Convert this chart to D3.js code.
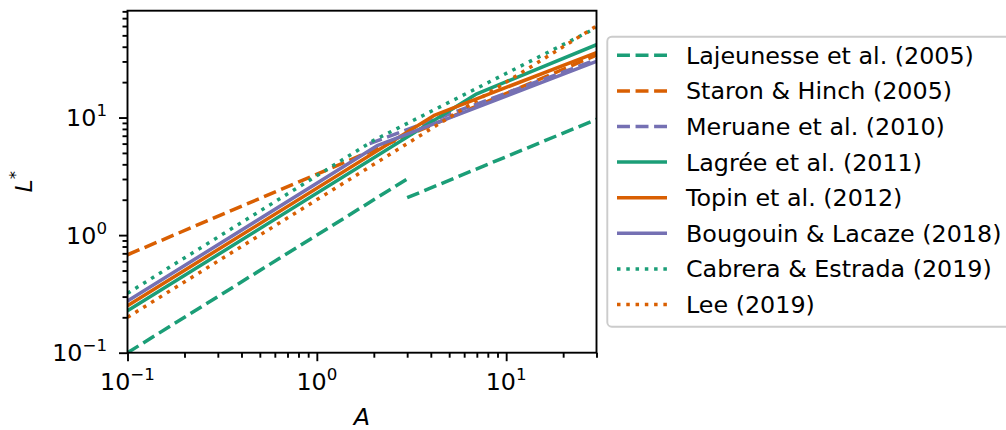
<!DOCTYPE html>
<html>
<head>
<meta charset="utf-8">
<script src="https://cdn.jsdelivr.net/npm/d3@7"></script>
<style>
  html, body { margin: 0; padding: 0; background: #ffffff; }
  svg { display: block; font-family: "DejaVu Sans", sans-serif; }
</style>
</head>
<body>
<svg id="chart" width="1006" height="430"></svg>
<script>
// ---- data (A = aspect ratio, L = normalised runout) ----
const seriesNames = [
  "Lajeunesse et al. (2005)", "Staron & Hinch (2005)", "Meruane et al. (2010)",
  "Lagrée et al. (2011)", "Topin et al. (2012)", "Bougouin & Lacaze (2018)",
  "Cabrera & Estrada (2019)", "Lee (2019)"
];
const A_lajeunesse = [0.1, 3, 3, 3, 30];
const L_lajeunesse = [0.1, 3, null, 2.08, 9.65];
const A_staron = [0.1, 30];
const L_staron = [0.68, 34];
const A_meruane = [1.9, 30];
const L_meruane = [6.0, 31];
const A_lagree = [0.1, 7, 30];
const L_lagree = [0.227, 15.9, 41.6];
const A_topin = [0.1, 4.2, 30];
const L_topin = [0.251, 10.5, 35.7];
const A_bougouin = [0.1, 2.1, 30];
const L_bougouin = [0.275, 5.8, 30];
const A_cabrera = [0.1, 2, 30];
const L_cabrera = [0.32, 6.4, 58];
const A_lee = [0.1, 30];
const L_lee = [0.2, 60];

const xTickExps = [-1, 0, 1];
const yTickExps = [-1, 0, 1];

// ---- styles ----
const C_GREEN = "#1b9e77", C_ORANGE = "#d95f02", C_PURPLE = "#7570b3";
const LW = 3.5;
const DASHED = `${3.7 * LW},${1.6 * LW}`;
const DOTTED = `${1 * LW},${1.65 * LW}`;
const styles = [
  { color: C_GREEN,  dash: DASHED },
  { color: C_ORANGE, dash: DASHED },
  { color: C_PURPLE, dash: DASHED },
  { color: C_GREEN,  dash: null },
  { color: C_ORANGE, dash: null },
  { color: C_PURPLE, dash: null },
  { color: C_GREEN,  dash: DOTTED },
  { color: C_ORANGE, dash: DOTTED }
];
const seriesA = [A_lajeunesse, A_staron, A_meruane, A_lagree, A_topin, A_bougouin, A_cabrera, A_lee];
const seriesL = [L_lajeunesse, L_staron, L_meruane, L_lagree, L_topin, L_bougouin, L_cabrera, L_lee];

// ---- layout ----
const pLeft = 127.5, pRight = 596.5, pTop = 10.7, pBottom = 352.7;
const FS = 23.8;

const svg = d3.select("#chart");
const x = d3.scaleLog().domain([0.1, 30]).range([pLeft, pRight]);
const y = d3.scaleLog().domain([0.1, 81]).range([pBottom, pTop]);

svg.append("defs").append("clipPath").attr("id", "plotclip")
  .append("rect").attr("x", pLeft).attr("y", pTop)
  .attr("width", pRight - pLeft).attr("height", pBottom - pTop);

// lines
const line = d3.line()
  .defined(d => d[1] != null)
  .x(d => x(d[0])).y(d => y(d[1]));

const gLines = svg.append("g").attr("clip-path", "url(#plotclip)");
seriesA.forEach((As, i) => {
  const pts = As.map((a, j) => [a, seriesL[i][j]]);
  gLines.append("path")
    .attr("d", line(pts))
    .attr("fill", "none")
    .attr("stroke", styles[i].color)
    .attr("stroke-width", LW)
    .attr("stroke-dasharray", styles[i].dash)
    .attr("stroke-linecap", "butt")
    .attr("stroke-linejoin", "round");
});

// axes
function supLabel(sel, exp) {
  sel.text(null);
  sel.append("tspan").text("10");
  sel.append("tspan")
    .attr("font-size", FS * 0.7)
    .attr("dy", -FS * 0.42)
    .text(exp < 0 ? "\u2212" + Math.abs(exp) : String(exp));
}

const majorLen = 8.5, minorLen = 5;
const xMinor = [], yMinor = [];
[0.1, 1, 10].forEach(b => { for (let k = 2; k <= 9; k++) { if (b * k <= 30.0001) xMinor.push(b * k); } });
[0.1, 1, 10].forEach(b => { for (let k = 2; k <= 9; k++) { if (b * k <= 81) yMinor.push(b * k); } });

const xAxis = d3.axisBottom(x)
  .tickValues(xTickExps.map(e => Math.pow(10, e)))
  .tickSize(majorLen).tickPadding(5).tickFormat("");
const gx = svg.append("g").attr("transform", `translate(0,${pBottom})`).call(xAxis);
const xMinorAxis = d3.axisBottom(x).tickValues(xMinor).tickSize(minorLen).tickFormat("");
const gxm = svg.append("g").attr("transform", `translate(0,${pBottom})`).call(xMinorAxis);

const yAxis = d3.axisLeft(y)
  .tickValues(yTickExps.map(e => Math.pow(10, e)))
  .tickSize(majorLen).tickFormat("");
const gy = svg.append("g").attr("transform", `translate(${pLeft},0)`).call(yAxis);
const yMinorAxis = d3.axisLeft(y).tickValues(yMinor).tickSize(minorLen).tickFormat("");
const gym = svg.append("g").attr("transform", `translate(${pLeft},0)`).call(yMinorAxis);

[gx, gxm, gy, gym].forEach(g => {
  g.select(".domain").remove();
  g.selectAll(".tick line").attr("stroke", "#000").attr("stroke-width", 1.9);
});

// tick labels
xTickExps.forEach(e => {
  const t = svg.append("text")
    .attr("x", x(Math.pow(10, e)))
    .attr("y", 390)
    .attr("text-anchor", "middle")
    .attr("font-size", FS)
    .attr("fill", "#000");
  supLabel(t, e);
});
yTickExps.forEach(e => {
  const t = svg.append("text")
    .attr("x", 107)
    .attr("y", y(Math.pow(10, e)) + 8.5)
    .attr("text-anchor", "end")
    .attr("font-size", FS)
    .attr("fill", "#000");
  supLabel(t, e);
});

// frame
svg.append("rect")
  .attr("x", pLeft).attr("y", pTop)
  .attr("width", pRight - pLeft).attr("height", pBottom - pTop)
  .attr("fill", "none").attr("stroke", "#000").attr("stroke-width", 1.9);

// axis labels
svg.append("text")
  .attr("x", (pLeft + pRight) / 2).attr("y", 425)
  .attr("text-anchor", "middle").attr("font-size", FS)
  .attr("font-style", "italic").text("A");

const yl = svg.append("text")
  .attr("transform", `translate(32,${(pTop + pBottom) / 2}) rotate(-90)`)
  .attr("text-anchor", "middle").attr("font-size", FS);
yl.append("tspan").attr("font-style", "italic").text("L");
yl.append("tspan").attr("font-size", FS * 0.7).attr("dy", -FS * 0.45).text("*");

// legend
const lg = svg.append("g");
lg.append("rect")
  .attr("x", 607.3).attr("y", 36.7)
  .attr("width", 420).attr("height", 290)
  .attr("rx", 4.5).attr("ry", 4.5)
  .attr("fill", "#ffffff").attr("fill-opacity", 0.8)
  .attr("stroke", "#cccccc").attr("stroke-width", 1.9);

seriesNames.forEach((name, i) => {
  const yy = 55.3 + i * 35.6;
  lg.append("line")
    .attr("x1", 617).attr("x2", 667)
    .attr("y1", yy).attr("y2", yy)
    .attr("stroke", styles[i].color)
    .attr("stroke-width", LW)
    .attr("stroke-dasharray", styles[i].dash);
  lg.append("text")
    .attr("x", 686).attr("y", yy + 8.5)
    .attr("font-size", FS).attr("fill", "#000")
    .text(name);
});
</script>
</body>
</html>
